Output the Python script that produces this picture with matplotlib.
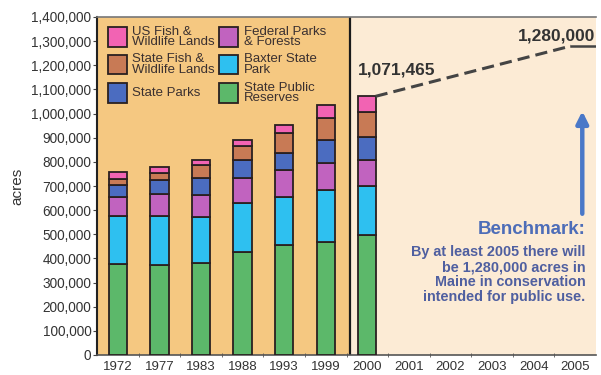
import matplotlib
matplotlib.use("Agg")
import matplotlib.pyplot as plt
from matplotlib.patches import Rectangle
from matplotlib.ticker import FuncFormatter, FixedLocator

plt.rcParams['font.family'] = ['Liberation Sans', 'DejaVu Sans']

# Acres of conserved land in Maine, by year
years = ['1972', '1977', '1983', '1988', '1993', '1999', '2000',
         '2001', '2002', '2003', '2004', '2005']
state_public_reserves = [375000, 373000, 381000, 427000, 456000, 469000, 497000]
baxter_state_park = [200000, 202000, 192000, 203000, 200000, 214000, 201000]
federal_parks_forests = [80000, 90000, 90000, 103000, 110000, 112000, 111000]
state_parks = [50000, 60000, 70000, 75000, 71000, 95000, 96000]
state_fish_wildlife = [25000, 30000, 54000, 58000, 83000, 92000, 100000]
us_fish_wildlife = [28000, 25000, 21000, 24000, 33000, 54000, 66465]

total_2000 = 1071465
benchmark_2005 = 1280000

series = [
    ('State Public\nReserves', state_public_reserves, '#5cb86a'),
    ('Baxter State\nPark', baxter_state_park, '#2ec0f0'),
    ('Federal Parks\n& Forests', federal_parks_forests, '#c163bf'),
    ('State Parks', state_parks, '#4b6cc0'),
    ('State Fish &\nWildlife Lands', state_fish_wildlife, '#c87a55'),
    ('US Fish &\nWildlife Lands', us_fish_wildlife, '#f263b3'),
]

fig = plt.figure(figsize=(6.01, 3.75), dpi=100)
ax = fig.add_axes([97 / 601, 20 / 375, 499 / 601, 338 / 375])

split = 5.58
ax.axvspan(-0.5, split, color='#f5c881', zorder=0, lw=0)
ax.axvspan(split, len(years) - 0.5, color='#fcebd5', zorder=0, lw=0)
ax.axvline(split, color='#1a1a1a', lw=1.6, zorder=1)

x = list(range(len(state_public_reserves)))
bottom = [0] * len(x)
for label, vals, col in series:
    ax.bar(x, vals, bottom=bottom, width=0.44, color=col,
           edgecolor='#2a2020', linewidth=1.3, zorder=3)
    bottom = [b + v for b, v in zip(bottom, vals)]

# projection from 2000 toward the 2005 benchmark
ax.plot([6.2, 10.9], [total_2000, benchmark_2005], ls=(0, (4, 2)),
        color='#444444', lw=2.2, zorder=4)
ax.plot([10.9, 11.48], [benchmark_2005, benchmark_2005], color='#444444',
        lw=1.8, zorder=4)
ax.text(5.78, 1160000, f'{total_2000:,}', fontsize=12.5, fontweight='bold',
        color='#333333', ha='left', va='baseline', zorder=5)
ax.text(11.48, 1302000, f'{benchmark_2005:,}', fontsize=12.5,
        fontweight='bold', color='#333333', ha='right', va='baseline', zorder=5)

ax.annotate('', xy=(11.17, 1010000), xytext=(11.17, 585000),
            arrowprops=dict(arrowstyle='-|>,head_width=0.35,head_length=0.7',
                            color='#4a78c8', lw=3.2, shrinkA=0, shrinkB=0),
            zorder=5)
ax.text(11.25, 518000, 'Benchmark:', fontsize=13.5, fontweight='bold',
        color='#4d6db8', ha='right', va='center', zorder=5)
ax.text(11.25, 333000,
        'By at least 2005 there will\nbe 1,280,000 acres in\n'
        'Maine in conservation\nintended for public use.',
        fontsize=10.4, fontweight='bold', color='#4f5fa0', ha='right',
        va='center', linespacing=1.1, zorder=5)

# legend boxes
legend_cells = [
    (series[5], 0, 0), (series[4], 0, 1), (series[3], 0, 2),
    (series[2], 1, 0), (series[1], 1, 1), (series[0], 1, 2),
]
col_x = [0.022, 0.2445]
text_x = [0.070, 0.2945]
row_y = [0.941, 0.860, 0.775]
for (label, vals, col), c, r in legend_cells:
    ax.add_patch(Rectangle((col_x[c], row_y[r] - 0.029), 0.039, 0.058,
                           transform=ax.transAxes, facecolor=col,
                           edgecolor='#2a2020', lw=1.3, zorder=6))
    ax.text(text_x[c], row_y[r], label, transform=ax.transAxes,
            fontsize=9.5, color='#3a3030', ha='left', va='center',
            linespacing=0.85, zorder=6)

ax.set_xlim(-0.5, len(years) - 0.5)
ax.set_ylim(0, 1400000)
ax.yaxis.set_major_locator(FixedLocator(range(0, 1400001, 100000)))
ax.yaxis.set_major_formatter(FuncFormatter(lambda v, p: f'{int(v):,}'))
ax.set_xticks(range(len(years)))
ax.set_xticklabels(years)
ax.set_xticks([i + 0.5 for i in range(len(years) - 1)], minor=True)
ax.tick_params(axis='x', which='major', length=0, labelsize=9.5,
               labelcolor='#333333', pad=4)
ax.tick_params(axis='x', which='minor', length=3, direction='inout',
               color='#555555')
ax.tick_params(axis='y', length=3, labelsize=9.8, labelcolor='#333333',
               color='#444444', pad=1)
ax.set_ylabel('acres', fontsize=11, color='#333333', labelpad=5)

ax.spines['left'].set_color('#222222')
ax.spines['left'].set_linewidth(1.5)
ax.spines['bottom'].set_color('#555555')
ax.spines['bottom'].set_linewidth(1.2)
ax.spines['top'].set_color('#777777')
ax.spines['top'].set_linewidth(1.2)
ax.spines['right'].set_visible(False)

fig.savefig('out.png', dpi=100)
